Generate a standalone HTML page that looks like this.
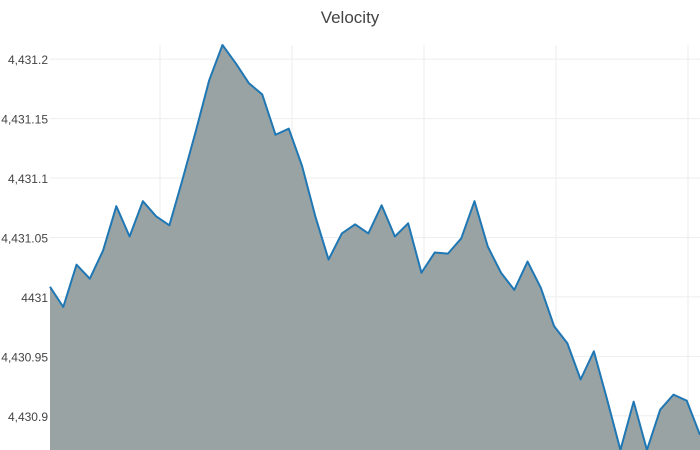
<!DOCTYPE html>
<html><head><meta charset="utf-8"><style>
body{margin:0;background:#fff;font-family:"Liberation Sans",Arial,sans-serif}
svg{display:block}
</style></head><body>
<svg id="chart" width="700" height="450">
<text x="350" y="23" text-anchor="middle" font-size="17" fill="#444">Velocity</text>
<g id="grid"></g>
<g id="plot"></g>
<g id="yaxis"></g>
</svg>
<script>
const values = [4431.0085,4430.9915,4431.0271,4431.0153,4431.0390,4431.0763,4431.0508,4431.0805,4431.0678,4431.0602,
4431.0992,4431.1398,4431.1822,4431.2119,4431.1966,4431.1797,4431.1703,4431.1364,4431.1415,4431.1102,
4431.0678,4431.0314,4431.0534,4431.0610,4431.0534,4431.0771,4431.0508,4431.0619,4431.0203,4431.0373,
4431.0364,4431.0492,4431.0805,4431.0424,4431.0203,4431.0059,4431.0297,4431.0076,4430.9754,4430.9610,
4430.9305,4430.9542,4430.9136,4430.8712,4430.9119,4430.8712,4430.9051,4430.9178,4430.9127,4430.8839];
const yTicks = [4430.9,4430.95,4431,4431.05,4431.1,4431.15,4431.2];
const yTickLabels = ["4,430.9","4,430.95","4431","4,431.05","4,431.1","4,431.15","4,431.2"];
const xGridFractions = [110/650,242/650,374/650,506/650,638/650];

const L=50,R=700,T=45,B=450;
const yMin=Math.min(...values), yMax=Math.max(...values);
const ys=v=>B-(v-yMin)/(yMax-yMin)*(B-T);
const xs=i=>L+i*(R-L)/(values.length-1);
const NS="http://www.w3.org/2000/svg";
const grid=document.getElementById('grid'), plot=document.getElementById('plot'), yaxis=document.getElementById('yaxis');

yTicks.forEach((t,i)=>{
  const y=ys(t);
  const ln=document.createElementNS(NS,'line');
  ln.setAttribute('x1',L);ln.setAttribute('x2',R);ln.setAttribute('y1',y);ln.setAttribute('y2',y);
  ln.setAttribute('stroke','#eee');
  
  
  grid.appendChild(ln);
  const tx=document.createElementNS(NS,'text');
  tx.setAttribute('x',48);tx.setAttribute('y',y+5);tx.setAttribute('text-anchor','end');
  tx.setAttribute('font-size','12');tx.setAttribute('fill','#444');
  tx.textContent=yTickLabels[i];
  
  
  yaxis.appendChild(tx);
});
xGridFractions.forEach(f=>{
  const x=L+f*(R-L);
  const ln=document.createElementNS(NS,'line');
  ln.setAttribute('x1',x);ln.setAttribute('x2',x);ln.setAttribute('y1',T);ln.setAttribute('y2',B);
  ln.setAttribute('stroke','#eee');
  
  
  grid.appendChild(ln);
});
const pts=values.map((v,i)=>xs(i).toFixed(2)+','+ys(v).toFixed(2));
const area=document.createElementNS(NS,'polygon');
area.setAttribute('points',L+','+B+' '+pts.join(' ')+' '+R+','+B);
area.setAttribute('fill','#99a3a4');


plot.appendChild(area);
const line=document.createElementNS(NS,'polyline');
line.setAttribute('points',pts.join(' '));
line.setAttribute('fill','none');line.setAttribute('stroke','#1f77b4');line.setAttribute('stroke-width','2');
line.setAttribute('stroke-linejoin','round');


plot.appendChild(line);
</script>
</body></html>
